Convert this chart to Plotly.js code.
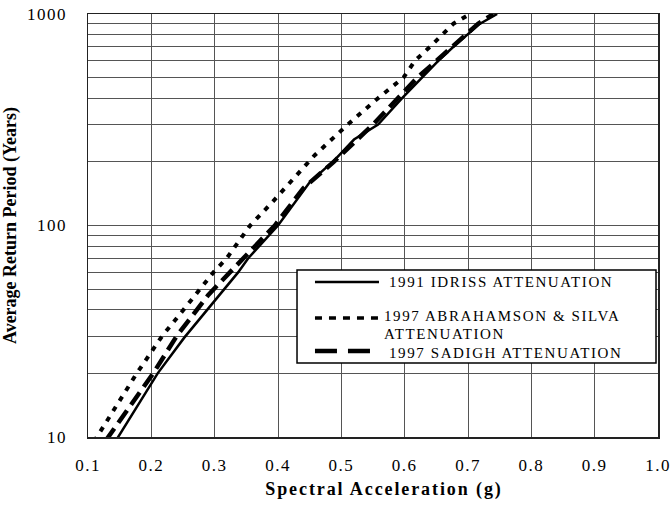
<!DOCTYPE html>
<html><head><meta charset="utf-8">
<script src="https://cdn.plot.ly/plotly-3.0.1.min.js"></script>
<style>
html,body{margin:0;padding:0;background:#fff;}
#chart{width:672px;height:506px;}
.xtick text,.ytick text{letter-spacing:1.5px;}
.annotation-text{letter-spacing:1.6px;}
text.xtitle, text.xtitle tspan{letter-spacing:1.9px !important;}
text.xtitle{transform:translateX(11px);}
</style></head><body><div id="chart"></div>
<script>
// ---- data ----
const seriesNames = ["1991 IDRISS ATTENUATION", "1997 ABRAHAMSON & SILVA", "ATTENUATION", "1997 SADIGH ATTENUATION"];

const idrissX = [0.143, 0.21, 0.252, 0.300, 0.337, 0.353, 0.400, 0.450, 0.490, 0.520, 0.558, 0.596, 0.627, 0.653, 0.677, 0.700, 0.719, 0.746];
const idrissY = [9.5, 20, 29.5, 44, 60, 70, 100, 160, 205, 255, 300, 400, 500, 600, 700, 800, 900, 1000];

const abrahamsonX = [0.110, 0.114, 0.177, 0.217, 0.248, 0.298, 0.319, 0.356, 0.390, 0.424, 0.458, 0.510, 0.558, 0.598, 0.616, 0.640, 0.659, 0.677, 0.703];
const abrahamsonY = [9.5, 10, 20, 30, 39, 60, 70, 100, 128, 166, 215, 300, 400, 500, 600, 700, 800, 900, 1000];

const sadighX = [0.128, 0.132, 0.203, 0.240, 0.290, 0.345, 0.395, 0.440, 0.488, 0.550, 0.590, 0.620, 0.650, 0.675, 0.697, 0.716, 0.740];
const sadighY = [9.6, 10, 20, 30, 47, 70, 100, 150, 200, 300, 400, 500, 600, 700, 800, 900, 1000];

const xTickVals = [0.1, 0.2, 0.3, 0.4, 0.5, 0.6, 0.7, 0.8, 0.9, 1.0];
const xTickText = ["0.1", "0.2", "0.3", "0.4", "0.5", "0.6", "0.7", "0.8", "0.9", "1.0"];
const yTickVals = [10, 20, 30, 40, 50, 60, 70, 80, 90, 100, 200, 300, 400, 500, 600, 700, 800, 900, 1000];
const yTickText = ["10", "", "", "", "", "", "", "", "", "100", "", "", "", "", "", "", "", "", "1000"];

// ---- styles ----
const serif = "Liberation Serif, Times New Roman, serif";
const lineStyles = [
  {color: "#000", width: 2.5, dash: "solid"},
  {color: "#000", width: 4, dash: "5px,7px"},
  {color: "#000", width: 4.5, dash: "15px,7px"}
];
const legendDash = ["solid", "7px,7px", "22px,11px"];

const traces = [
  {x: idrissX, y: idrissY, name: seriesNames[0], mode: "lines", line: lineStyles[0]},
  {x: abrahamsonX, y: abrahamsonY, name: seriesNames[1] + " " + seriesNames[2], mode: "lines", line: lineStyles[1]},
  {x: sadighX, y: sadighY, name: seriesNames[3], mode: "lines", line: lineStyles[2]}
];

// manual legend (paper coordinates)
const legBox = {x0: 0.3667, x1: 0.9965, y0: 0.175, y1: 0.3948};
const legLineX = [0.3982, 0.5105];
const legRowY = [0.3664, 0.2813, 0.2033];
const shapes = [
  {type: "rect", xref: "paper", yref: "paper", x0: legBox.x0, x1: legBox.x1, y0: legBox.y0, y1: legBox.y1,
   fillcolor: "#fff", line: {color: "#000", width: 1.5}, layer: "above"}
];
for (let i = 0; i < 3; i++) {
  shapes.push({type: "line", xref: "paper", yref: "paper", x0: legLineX[0], x1: legLineX[1], y0: legRowY[i], y1: legRowY[i],
    line: {color: "#000", width: i === 0 ? 2.5 : (i === 1 ? 3.5 : 4.5), dash: legendDash[i]}, layer: "above"});
}
const annFont = {family: serif, size: 15, color: "#000"};
const annotations = [
  {text: seriesNames[0], x: 0.5263, y: 0.3664},
  {text: seriesNames[1], x: 0.5175, y: 0.2860},
  {text: seriesNames[2], x: 0.5175, y: 0.2440},
  {text: seriesNames[3], x: 0.5263, y: 0.1990}
].map(a => Object.assign(a, {xref: "paper", yref: "paper", xanchor: "left", yanchor: "middle", showarrow: false, font: annFont, borderpad: 0}));

const layout = {
  width: 672, height: 506,
  margin: {l: 88, r: 14, t: 14, b: 69},
  paper_bgcolor: "#fff", plot_bgcolor: "#fff",
  showlegend: false,
  xaxis: {
    range: [0.1, 1.0], tickvals: xTickVals, ticktext: xTickText,
    showgrid: true, gridcolor: "#555", gridwidth: 1, zeroline: false,
    showline: true, linecolor: "#222", linewidth: 1.5, mirror: true,
    ticks: "", ticklabelstandoff: 12,
    tickfont: {family: serif, size: 17, color: "#000"},
    title: {text: "<b>Spectral Acceleration (g)</b>", font: {family: serif, size: 18, color: "#000"}, standoff: 8},
    automargin: false
  },
  yaxis: {
    type: "log", range: [1, 3], tickvals: yTickVals, ticktext: yTickText,
    showgrid: true, gridcolor: "#555", gridwidth: 1, zeroline: false,
    showline: true, linecolor: "#222", linewidth: 1.5, mirror: true,
    ticks: "", ticklabelstandoff: 16,
    tickfont: {family: serif, size: 17, color: "#000"},
    title: {text: "<b>Average Return Period (Years)</b>", font: {family: serif, size: 18, color: "#000"}, standoff: 10},
    automargin: false
  },
  shapes: shapes,
  annotations: annotations
};

Plotly.newPlot("chart", traces, layout, {displayModeBar: false, staticPlot: true});
</script></body></html>
